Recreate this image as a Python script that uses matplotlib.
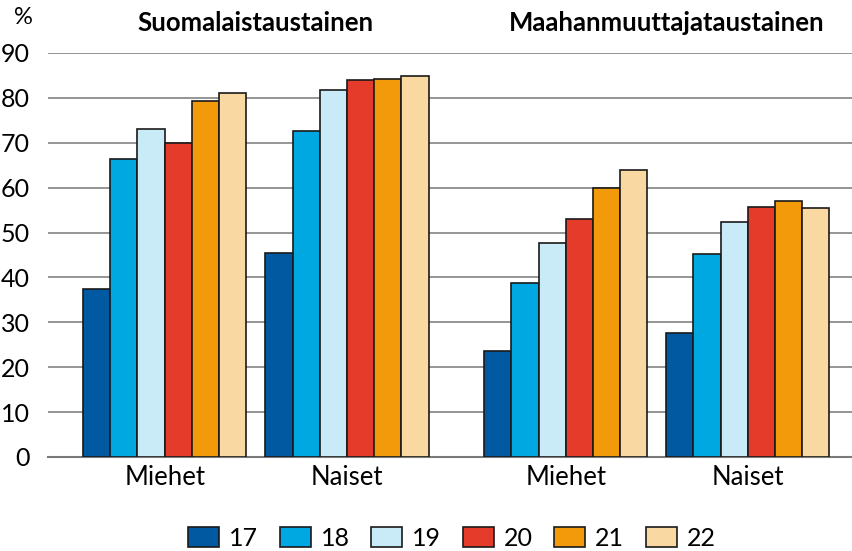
import matplotlib.pyplot as plt
import numpy as np

plt.rcParams['font.family'] = ['Lato', 'DejaVu Sans']

years = ['17', '18', '19', '20', '21', '22']
groups = ['Miehet', 'Naiset', 'Miehet', 'Naiset']
# values per group (rows) and year (columns)
suomi_miehet = [37.5, 66.3, 73.1, 70.0, 79.3, 81.1]
suomi_naiset = [45.4, 72.6, 81.8, 84.0, 84.3, 84.9]
maahan_miehet = [23.6, 38.8, 47.7, 53.0, 59.9, 63.9]
maahan_naiset = [27.6, 45.2, 52.3, 55.6, 57.0, 55.4]
colors = ['#0059a1', '#00a8e1', '#c9ebf8', '#e53b2a', '#f39a0b', '#f9d9a1']

values = np.array([suomi_miehet, suomi_naiset, maahan_miehet, maahan_naiset])
group_centers = [4.29, 10.99, 19.04, 25.73]

fig = plt.figure(figsize=(8.52, 5.51), dpi=100)
ax = fig.add_axes([48 / 852, 1 - 457 / 551, 804 / 852, 404 / 551])

for i, yr in enumerate(years):
    xs = [c - 2.5 + i for c in group_centers]
    ax.bar(xs, values[:, i], width=1.0, color=colors[i], edgecolor='#1a1a1a',
           linewidth=1.2, label=yr, zorder=3)

ax.set_xlim(0, 29.56)
ax.set_ylim(0, 90)
ax.set_yticks(range(0, 91, 10))
ax.set_yticklabels([str(v) for v in range(0, 91, 10)], fontsize=18)
ax.set_xticks(group_centers)
ax.set_xticklabels(groups, fontsize=18.5)
ax.tick_params(axis='x', length=0, pad=6)
ax.tick_params(axis='y', length=0, pad=13)
ax.grid(axis='y', color='#8c8c8c', linewidth=1.3, zorder=0)
for s in ['left', 'right', 'top']:
    ax.spines[s].set_visible(False)
ax.spines['bottom'].set_color('#7a7a7a')
ax.spines['bottom'].set_linewidth(1.5)

fig.text(23 / 852, 1 - 17 / 551, '%', fontsize=17, ha='center', va='center')
fig.text(255 / 852, 1 - 23 / 551, 'Suomalaistaustainen', fontsize=18.5,
         fontweight='bold', ha='center', va='center')
fig.text(667 / 852, 1 - 23 / 551, 'Maahanmuuttajataustainen', fontsize=18.5,
         fontweight='bold', ha='center', va='center')

fig.legend(loc='center', bbox_to_anchor=(452 / 852, 1 - 538 / 551), ncol=6,
           frameon=False, fontsize=18, handlelength=1.25, handleheight=0.85,
           columnspacing=0.85, handletextpad=0.4)

fig.savefig('out.png', dpi=100)
